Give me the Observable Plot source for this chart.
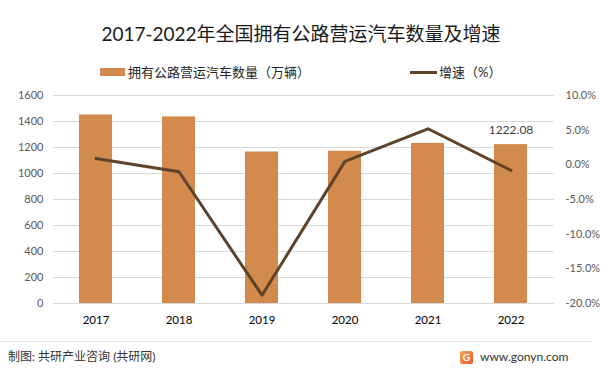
<!DOCTYPE html>
<html><head><meta charset="utf-8">
<script src="https://cdn.jsdelivr.net/npm/d3@7"></script>
<script src="https://cdn.jsdelivr.net/npm/@observablehq/plot@0.6"></script>
<style>
html,body{margin:0;padding:0;background:#fff;}
#wrap{position:relative;width:602px;height:372px;overflow:hidden;font-family:Lato,"Noto Sans CJK SC",sans-serif;}
#title{position:absolute;left:0;width:602px;top:21px;text-align:center;font-size:19px;color:#1a1a1a;line-height:26px;}
.leg{position:absolute;top:63px;font-size:13px;color:#262626;line-height:18px;display:flex;align-items:center;}
.sw1{width:25px;height:8px;background:#D38B4D;margin-right:3px;}
.sw2{width:27px;height:3px;background:#5E432B;margin-right:2px;}
#foot{position:absolute;left:0;top:341px;width:592px;border-top:1px solid #e3e3e3;}
#src{position:absolute;left:8px;top:349px;font-size:12px;color:#333;line-height:16px;}
#site{position:absolute;left:460px;top:349px;font-size:12px;color:#333;line-height:16px;display:flex;align-items:center;}
.logo{width:13px;height:13px;border-radius:2px;background:linear-gradient(135deg,#f7a552,#ec5a2c);margin-right:7px;color:#fff;font-size:10px;font-weight:bold;text-align:center;line-height:13px;}
#chart{position:absolute;left:0;top:0;}
</style></head>
<body>
<div id="wrap">
  <div id="chart"></div>
  <div id="title">2017-2022年全国拥有公路营运汽车数量及增速</div>
  <div class="leg" style="left:100px"><div class="sw1"></div>拥有公路营运汽车数量（万辆）</div>
  <div class="leg" style="left:410px"><div class="sw2"></div>增速（%）</div>
  <div id="foot"></div>
  <div id="src">制图: 共研产业咨询 (共研网)</div>
  <div id="site"><div class="logo">G</div>www.gonyn.com</div>
</div>
<script>
const years = ["2017","2018","2019","2020","2021","2022"];
const vehicles = [1450.22, 1435.48, 1165.49, 1171.54, 1231.96, 1222.08];
const growth = [0.9, -1.0, -18.8, 0.5, 5.2, -0.8];
const leftTicks = [0,200,400,600,800,1000,1200,1400,1600];
const rightTicks = [10,5,0,-5,-10,-15,-20];

const toLeft = g => (g + 20) / 30 * 1600;
const fromLeft = v => Math.round((v / 1600 * 30 - 20) * 10) / 10;
const fmtPct = v => { const p = fromLeft(v); return (Math.abs(p) < 1e-9 ? 0 : p).toFixed(1) + "%"; };

const rows = years.map((y, i) => ({year: y, v: vehicles[i], g: growth[i], gy: toLeft(growth[i]), last: i === years.length - 1}));

const plot = Plot.plot({
  width: 602, height: 372,
  marginTop: 95, marginBottom: 69, marginLeft: 53, marginRight: 48,
  style: {fontFamily: 'Lato,"Noto Sans CJK SC",sans-serif', fontSize: "11px", background: "transparent"},
  x: {domain: years, paddingInner: 0.6, paddingOuter: 0.3, label: null},
  y: {domain: [0, 1600], label: null},
  marks: [
    Plot.ruleY(leftTicks, {stroke: "#d9d9d9", strokeWidth: 1}),
    Plot.barY(rows, {x: "year", y: "v", fill: "#D38B4D"}),
    Plot.lineY(rows, {x: "year", y: "gy", stroke: "#5E432B", strokeWidth: 3, strokeLinejoin: "round", strokeLinecap: "round"}),
    Plot.text(rows.filter(d => d.last), {x: "year", y: "v", text: d => d.v.toFixed(2), dy: -14, fill: "#404040", fontSize: 12}),
    Plot.axisY({ticks: leftTicks, tickSize: 0, tickPadding: 10, tickFormat: d => String(d), fill: "#595959", fontSize: 11, label: null}),
    Plot.axisY({anchor: "right", ticks: rightTicks.map(toLeft), tickSize: 0, tickPadding: 11, tickFormat: fmtPct, fill: "#595959", fontSize: 11, label: null}),
    Plot.axisX({tickSize: 0, tickPadding: 12, fill: "#000", fontSize: 11.5, label: null})
  ]
});
document.getElementById("chart").appendChild(plot);
</script>
</body></html>
